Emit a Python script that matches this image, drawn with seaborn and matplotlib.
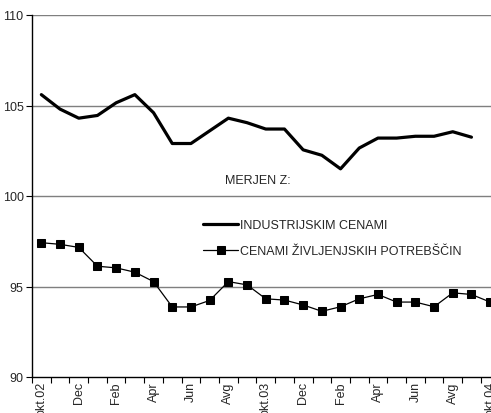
import matplotlib
matplotlib.use("Agg")
import matplotlib.pyplot as plt
import seaborn as sns
import pandas as pd
import numpy as np

months = ["okt.02", "nov.02", "Dec", "jan.03", "Feb", "mar.03", "Apr", "maj.03", "Jun", "jul.03",
          "Avg", "sep.03", "okt.03", "nov.03", "Dec", "jan.04", "Feb", "mar.04", "Apr", "maj.04",
          "Jun", "jul.04", "Avg", "sep.04", "okt.04"]
tick_labels = ["okt.02", "Dec", "Feb", "Apr", "Jun", "Avg", "okt.03", "Dec", "Feb", "Apr", "Jun", "Avg", "okt.04"]

industrijske = [105.6, 104.8, 104.3, 104.45, 105.15, 105.6, 104.6, 102.9, 102.9, 103.6,
                104.3, 104.05, 103.7, 103.7, 102.55, 102.25, 101.5, 102.65, 103.2, 103.2,
                103.3, 103.3, 103.55, 103.25]
zivljenjske = [97.42, 97.33, 97.16, 96.12, 96.03, 95.79, 95.27, 93.87, 93.87, 94.23,
               95.27, 95.09, 94.32, 94.25, 93.98, 93.63, 93.88, 94.32, 94.56, 94.14,
               94.14, 93.88, 94.65, 94.56, 94.14]

label_ind = "INDUSTRIJSKIM CENAMI"
label_ziv = "CENAMI ŽIVLJENJSKIH POTREBŠČIN"
legend_title = "MERJEN Z:"

sns.set_theme(style="white")
plt.rcParams["font.family"] = ["Liberation Sans", "DejaVu Sans"]

FS = 9
W, H = 491, 414
fig = plt.figure(figsize=(W / 100, H / 100), dpi=100)
left_px, right_px, top_px, bottom_px = 32, 499.5, 16, 378
ax = fig.add_axes([left_px / W, 1 - bottom_px / H, (right_px - left_px) / W, (bottom_px - top_px) / H])

df1 = pd.DataFrame({"i": np.arange(len(industrijske)), "v": industrijske})
df2 = pd.DataFrame({"i": np.arange(len(zivljenjske)), "v": zivljenjske})

sns.lineplot(data=df1, x="i", y="v", ax=ax, color="black", linewidth=2.3, label=label_ind)
sns.lineplot(data=df2, x="i", y="v", ax=ax, color="black", linewidth=0.9, marker="s",
             markersize=5.5, markeredgecolor="black", markerfacecolor="black", label=label_ziv)

ax.set_xlim(-0.5, len(months) - 0.5)
ax.set_ylim(90, 110)
ax.set_yticks([90, 95, 100, 105, 110])
ax.set_yticklabels(["90", "95", "100", "105", "110"], fontsize=FS)
for y in [95, 100, 105, 110]:
    ax.axhline(y, color="#7f7f7f", linewidth=1.0, zorder=0)

# category boundaries as tick marks, labels at every other category
ax.set_xticks(np.arange(-0.5, len(months), 1.0))
ax.set_xticklabels([])
ax.set_xticks(np.arange(0, len(months), 2), minor=True)
ax.set_xticklabels(tick_labels, minor=True, rotation=90, fontsize=FS)
ax.tick_params(axis="x", which="major", direction="out", length=4, width=0.8, color="black", bottom=True)
ax.tick_params(axis="x", which="minor", length=0, pad=3)
ax.tick_params(axis="y", direction="out", length=4, width=0.8, color="black", left=True, pad=2)
ax.set_xlabel("")
ax.set_ylabel("")

for s in ["top", "right"]:
    ax.spines[s].set_visible(False)
for s in ["left", "bottom"]:
    ax.spines[s].set_color("black")
    ax.spines[s].set_linewidth(1.0)

ax.text(225 / W, 1 - 181 / H, legend_title, transform=fig.transFigure, fontsize=FS,
        ha="left", va="center")
leg = ax.legend(loc="upper left", bbox_to_anchor=(203 / W, 1 - 220 / H), bbox_transform=fig.transFigure,
                frameon=False, fontsize=FS, handlelength=2.8, handletextpad=0.15, labelspacing=1.15,
                borderpad=0, borderaxespad=0)

fig.savefig("out.png", dpi=100)
